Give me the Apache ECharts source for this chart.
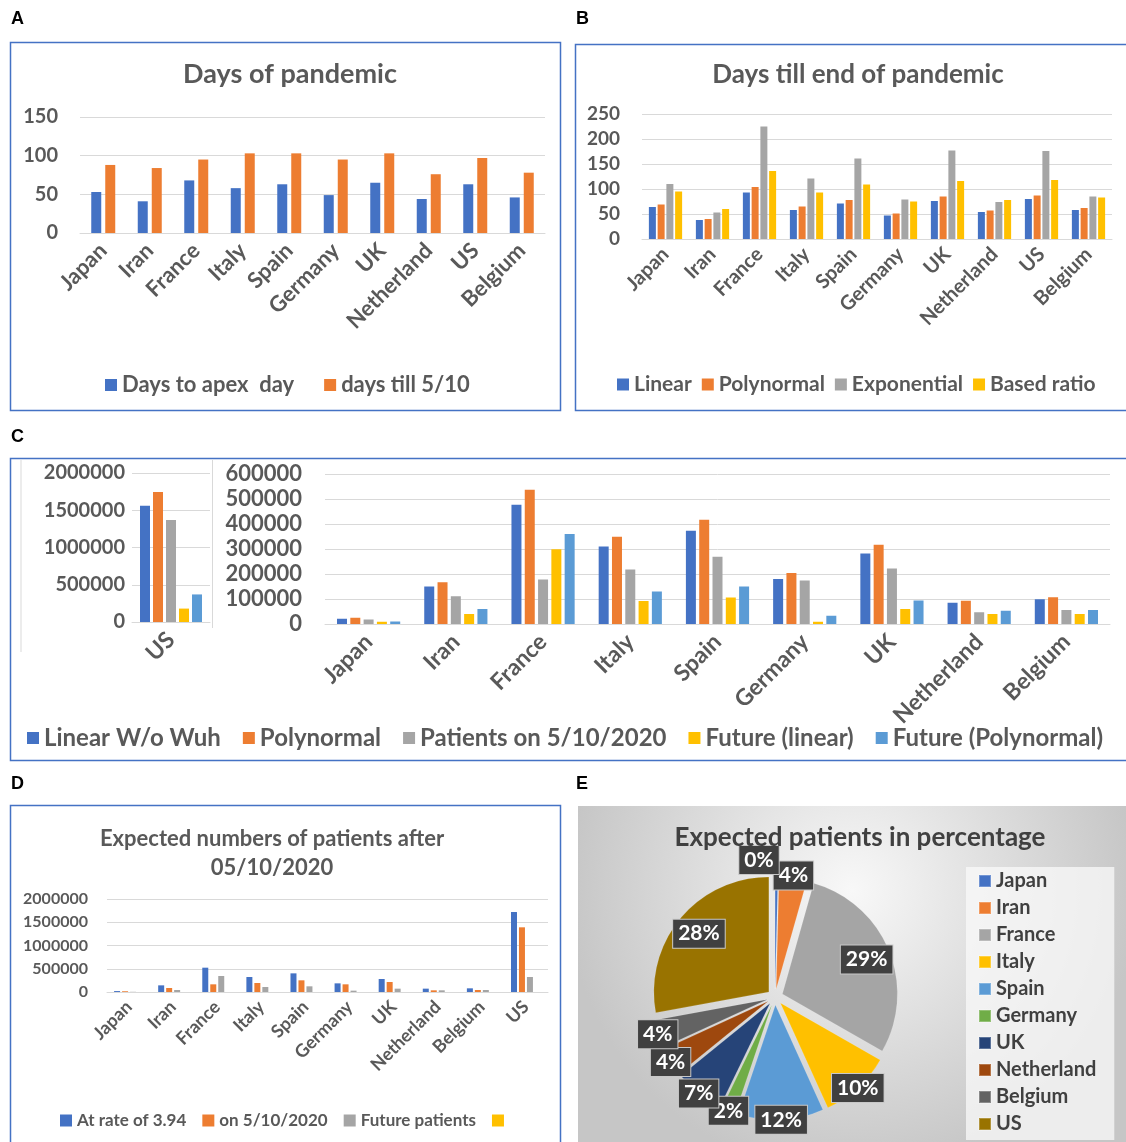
<!DOCTYPE html>
<html><head><meta charset="utf-8">
<script src="https://cdn.jsdelivr.net/npm/echarts@6/dist/echarts.min.js"></script>
<style>html,body{margin:0;padding:0;background:#fff}#c{width:1126px;height:1142px}</style>
</head><body><div id="c"></div>
<script>
// ---- Panel A ----
const countriesAB = ['Japan','Iran','France','Italy','Spain','Germany','UK','Netherland','US','Belgium'];
const aApex = [53,41,68,58,63,49,65,44,63,46];
const aTill = [88,84,95,103,103,95,103,76,97,78];
const aTicks = {min:0,max:150,interval:50};
// ---- Panel B ----
const bLinear = [64,38,93,58,71,47,76,54,80,58];
const bPoly   = [69,40,104,65,78,51,85,57,87,62];
const bExp    = [110,53,225,121,161,79,177,74,176,85];
const bRatio  = [95,60,136,93,109,75,116,78,118,83];
const bTicks = {min:0,max:250,interval:50};
// ---- Panel C ----
const cCountries = ['Japan','Iran','France','Italy','Spain','Germany','UK','Netherland','Belgium'];
const cLinear   = [21000,150000,477000,310000,373000,180000,282000,85000,99000];
const cPoly     = [25000,167000,537000,349000,417000,204000,317000,93000,107000];
const cPatients = [18000,111000,178000,218000,269000,174000,222000,47000,56000];
const cFutLin   = [9000,40000,299000,92000,106000,9000,60000,40000,40000];
const cFutPoly  = [10000,60000,360000,130000,150000,33000,94000,53000,56000];
const cUSCat = ['US'];
const cUSValues = [1560000,1745000,1370000,180000,370000];
const cNames = ['Linear W/o Wuh','Polynormal','Patients on 5/10/2020','Future (linear)','Future (Polynormal)'];
// ---- Panel D ----
const dCountries = ['Japan','Iran','France','Italy','Spain','Germany','UK','Netherland','Belgium','US'];
const dRate   = [20000,143000,523000,322000,401000,186000,280000,72000,79000,1720000];
const dOn     = [16000,86000,165000,194000,251000,165000,215000,36000,43000,1391000];
const dFuture = [4000,43000,344000,107000,122000,29000,72000,36000,43000,323000];
const dBlank  = [];
// ---- Panel E ----
const eCountries = ['Japan','Iran','France','Italy','Spain','Germany','UK','Netherland','Belgium','US'];
const ePercent = [0.4,4,29,10,12,2,7,4,4,28];

const C = {blue:'#4472C4',orange:'#ED7D31',gray:'#A5A5A5',yellow:'#FFC000',lblue:'#5B9BD5'};
const pieColors = ['#4472C4','#ED7D31','#A5A5A5','#FFC000','#5B9BD5','#70AD47','#264478','#9E480E','#636363','#997300'];
const FONT = 'Lato';
const TXT = '#595959';

function yAx(grid, ticks, fs, margin){
  return {type:'value', gridIndex:grid, min:ticks.min, max:ticks.max, interval:ticks.interval,
    axisLine:{show:false}, axisTick:{show:false},
    splitLine:{lineStyle:{color:'#d9d9d9',width:1}},
    axisLabel:{color:TXT,fontFamily:FONT,fontWeight:'bold',fontSize:fs,margin:margin,formatter:v=>String(v)}};
}
function xAx(grid, cats, fs, margin){
  return {type:'category', gridIndex:grid, data:cats,
    axisLine:{lineStyle:{color:'#d9d9d9'}}, axisTick:{show:false},
    axisLabel:{color:TXT,fontFamily:FONT,fontWeight:'bold',fontSize:fs,rotate:45,margin:margin,interval:0}};
}
function bar(name, grid, data, color, w, gap){
  return {type:'bar', name:name, xAxisIndex:grid, yAxisIndex:grid, data:data,
    barWidth:w, barGap:gap, itemStyle:{color:color}, silent:true};
}
function legend(names, left, top, fs, gap, width){
  return {data:names, left:left, top:top, width:width||'auto', itemWidth:12, itemHeight:12, itemGap:gap, icon:'rect',
    textStyle:{color:TXT,fontFamily:FONT,fontWeight:'bold',fontSize:fs}, selectedMode:false};
}

const cColors = [C.blue,C.orange,C.gray,C.yellow,C.lblue];
const series = [
  bar('Days to apex  day',0,aApex,C.blue,10,'40%'),
  bar('days till 5/10',0,aTill,C.orange,10,'40%'),
  bar('Linear',1,bLinear,C.blue,7,'25%'),
  bar('Polynormal',1,bPoly,C.orange,7,'25%'),
  bar('Exponential',1,bExp,C.gray,7,'25%'),
  bar('Based ratio',1,bRatio,C.yellow,7,'25%'),
];
cNames.forEach((n,i)=>series.push(bar(n,2,[cUSValues[i]],cColors[i],10,'30%')));
[cLinear,cPoly,cPatients,cFutLin,cFutPoly].forEach((d,i)=>series.push(bar(cNames[i],3,d,cColors[i],10,'33%')));
series.push(bar('At rate of 3.94',4,dRate,C.blue,6,'33%'));
series.push(bar('on 5/10/2020',4,dOn,C.orange,6,'33%'));
series.push(bar('Future patients',4,dFuture,C.gray,6,'33%'));
series.push(bar(' ',4,dBlank,C.yellow,6,'33%'));

const PIE_C = [775,997];
const pieData = eCountries.map((n,i)=>({name:n,value:ePercent[i],selected:true,itemStyle:{color:pieColors[i]}}));
series.push({type:'pie', name:'pie', center:PIE_C, radius:[0,115], startAngle:90, clockwise:true,
  selectedMode:'multiple', selectedOffset:8, silent:true, label:{show:false}, labelLine:{show:false},
  data:pieData, itemStyle:{borderColor:'rgba(255,255,255,0.25)',borderWidth:0.5}});
const pieLabel = {position:'inside', formatter:p=>Math.round(p.percent)+'%', overflow:'none',
    color:'#fff', fontFamily:FONT, fontWeight:'bold', fontSize:21, backgroundColor:'#404040',
    borderColor:'#c8c8c8', borderWidth:1, padding:[4,5,3,5]};
function labelPie(radius, pick, layout){
  const s = {type:'pie', center:PIE_C, radius:radius, startAngle:90, clockwise:true,
    silent:true, labelLine:{show:false}, z:5, avoidLabelOverlap:false, labelLayout:layout||{hideOverlap:false},
    data:eCountries.map((n,i)=>({name:n,value:ePercent[i],label:{show:pick(ePercent[i])}})),
    itemStyle:{color:'rgba(0,0,0,0)'}, label:Object.assign({show:true},pieLabel)};
  return s;
}
series.push(labelPie([72,120], v=>v>=20));
series.push(labelPie([94,146], v=>v>=1 && v<20));
series.push(labelPie([112,156], v=>v<1, p=>({hideOverlap:false, dx:-p.labelRect.width/2+3})));

const option = {
  animation:false,
  textStyle:{fontFamily:FONT},
  title:[
    {text:'Days of pandemic', left:285, top:56, textAlign:'center', textStyle:{color:TXT,fontFamily:FONT,fontWeight:'bold',fontSize:27}},
    {text:'Days till end of pandemic', left:853, top:57, textAlign:'center', textStyle:{color:TXT,fontFamily:FONT,fontWeight:'bold',fontSize:26}},
    {text:'Expected numbers of patients after\n05/10/2020', left:267, top:819, textAlign:'center', textStyle:{color:TXT,fontFamily:FONT,fontWeight:'bold',fontSize:22,lineHeight:29}},
    {text:'Expected patients in percentage', left:855, top:820, textAlign:'center', textStyle:{color:'#404040',fontFamily:FONT,fontWeight:'bold',fontSize:26}}
  ],
  grid:[
    {left:80, top:117, width:465, height:116},
    {left:642, top:114, width:470, height:125},
    {left:132, top:473, width:78, height:149},
    {left:325, top:474, width:785, height:150},
    {left:107, top:899, width:441, height:93}
  ],
  xAxis:[xAx(0,countriesAB,22,14), xAx(1,countriesAB,20,12), xAx(2,cUSCat,23,14), xAx(3,cCountries,23,14), xAx(4,dCountries,18,12)],
  yAxis:[yAx(0,aTicks,20,22), yAx(1,bTicks,19,22),
    yAx(2,{min:0,max:2000000,interval:500000},20,7),
    yAx(3,{min:0,max:600000,interval:100000},22,23),
    yAx(4,{min:0,max:2000000,interval:500000},16,19)],
  legend:[
    legend(['Days to apex  day','days till 5/10'],100,369,22,30),
    legend(['Linear','Polynormal','Exponential','Based ratio'],612,369,21,10),
    legend(cNames,22,721,24,22,1104),
    legend(['At rate of 3.94','on 5/10/2020','Future patients',' '],55,1107,17,16),
    {data:eCountries.map((n,i)=>({name:n,itemStyle:{color:pieColors[i]}})), orient:'vertical', left:966, top:867,
      itemWidth:12, itemHeight:12, itemGap:7, icon:'rect', selectedMode:false,
      backgroundColor:'rgba(250,250,250,0.75)', padding:[4,18,6,12],
      textStyle:{color:'#404040',fontFamily:FONT,fontWeight:'bold',fontSize:20}}
  ],
  graphic:[
    {type:'rect', z:-10, shape:{x:578,y:806,width:548,height:336}, style:{fill:{type:'radial',x:0.5,y:0.25,r:0.85,colorStops:[{offset:0,color:'#f8f8f8'},{offset:1,color:'#c6c6c6'}]}}},
    {type:'rect', shape:{x:10.5,y:42.5,width:550,height:368}, style:{fill:'none',stroke:'#4472C4',lineWidth:1.5}},
    {type:'rect', shape:{x:575.5,y:44.5,width:560,height:366}, style:{fill:'none',stroke:'#4472C4',lineWidth:1.5}},
    {type:'rect', shape:{x:10.5,y:458.5,width:1125,height:302}, style:{fill:'none',stroke:'#4472C4',lineWidth:1.5}},
    {type:'rect', shape:{x:10.5,y:805.5,width:550,height:345}, style:{fill:'none',stroke:'#4472C4',lineWidth:1.5}},
    {type:'line', shape:{x1:21,y1:460,x2:21,y2:652}, style:{stroke:'#d9d9d9',lineWidth:1}},
    {type:'line', shape:{x1:212.5,y1:460,x2:212.5,y2:628}, style:{stroke:'#d9d9d9',lineWidth:1}},
    {type:'text', left:11, top:10, style:{text:'A',fontFamily:'Liberation Sans',fontWeight:'bold',fontSize:18,fill:'#000'}},
    {type:'text', left:576, top:10, style:{text:'B',fontFamily:'Liberation Sans',fontWeight:'bold',fontSize:18,fill:'#000'}},
    {type:'text', left:11, top:428, style:{text:'C',fontFamily:'Liberation Sans',fontWeight:'bold',fontSize:18,fill:'#000'}},
    {type:'text', left:11, top:775, style:{text:'D',fontFamily:'Liberation Sans',fontWeight:'bold',fontSize:18,fill:'#000'}},
    {type:'text', left:576, top:775, style:{text:'E',fontFamily:'Liberation Sans',fontWeight:'bold',fontSize:18,fill:'#000'}}
  ],
  series:series
};
const chart = echarts.init(document.getElementById('c'), null, {renderer:'canvas'});
chart.setOption(option);
</script></body></html>
